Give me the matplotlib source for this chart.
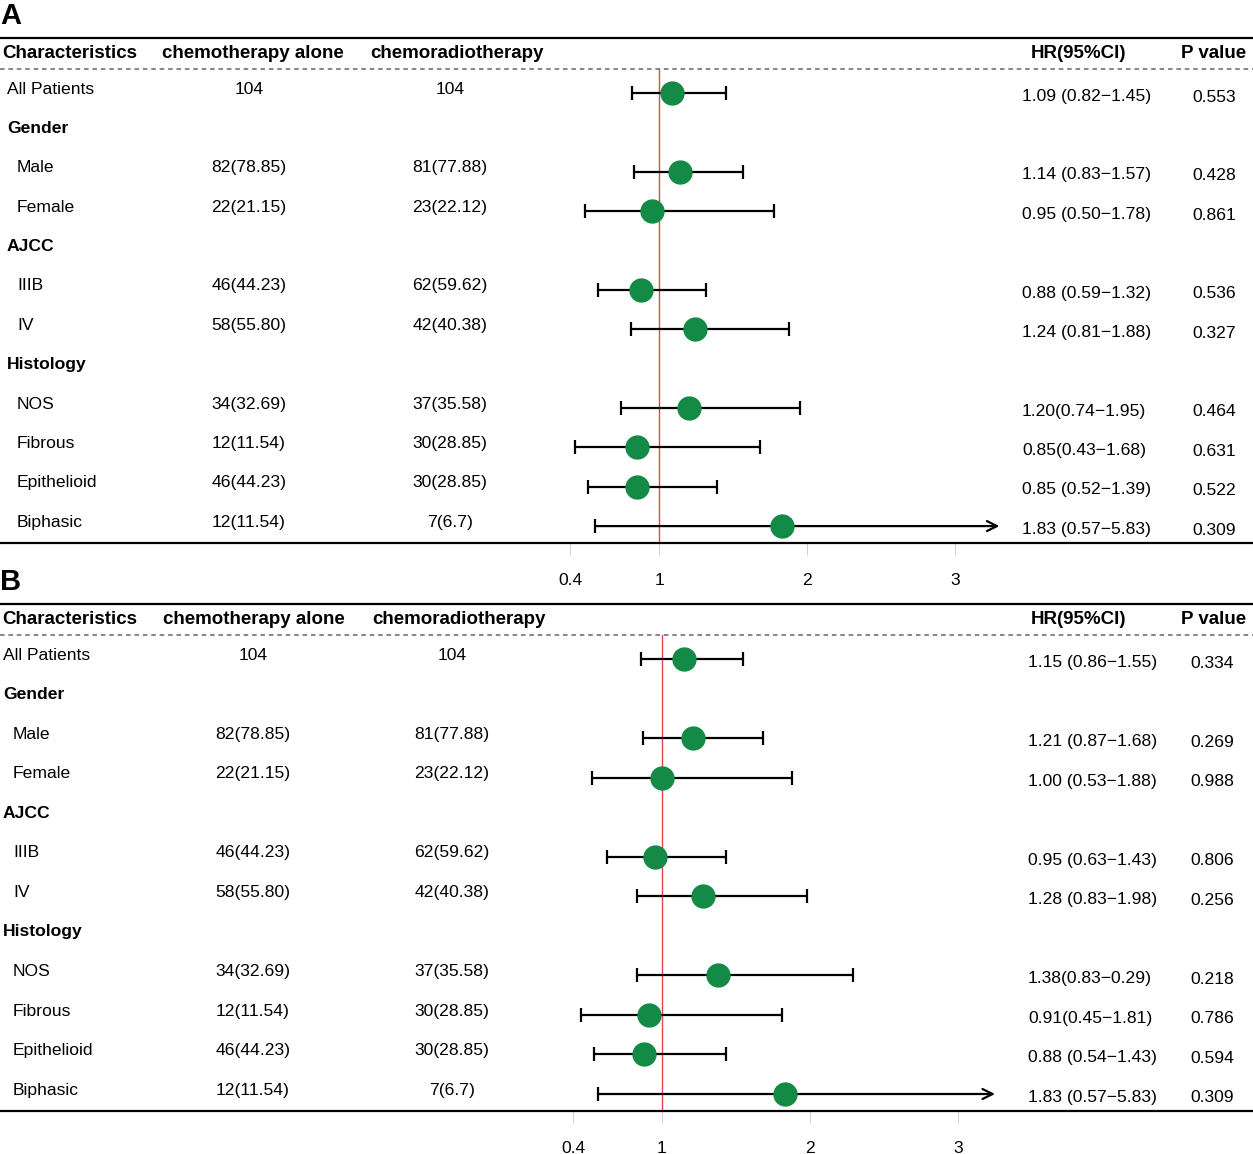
import matplotlib
matplotlib.use("Agg")
import matplotlib.pyplot as plt
import matplotlib.transforms as mtransforms

plt.rcParams['font.family'] = ['Liberation Sans', 'DejaVu Sans']

# --- data -------------------------------------------------------------------
row_labels = ["All Patients", "Gender", "Male", "Female", "AJCC", "IIIB", "IV",
              "Histology", "NOS", "Fibrous", "Epithelioid", "Biphasic"]
is_group = [False, True, False, False, True, False, False, True,
            False, False, False, False]
is_sub = [False, False, True, True, False, True, True, False,
          True, True, True, True]
chemo_alone = ["104", "", "82(78.85)", "22(21.15)", "", "46(44.23)", "58(55.80)",
               "", "34(32.69)", "12(11.54)", "46(44.23)", "12(11.54)"]
chemo_radio = ["104", "", "81(77.88)", "23(22.12)", "", "62(59.62)", "42(40.38)",
               "", "37(35.58)", "30(28.85)", "30(28.85)", "7(6.7)"]
data_rows = [0, 2, 3, 5, 6, 8, 9, 10, 11]

# panel A
hr_a = [1.09, 1.14, 0.95, 0.88, 1.24, 1.20, 0.85, 0.85, 1.83]
lo_a = [0.82, 0.83, 0.50, 0.59, 0.81, 0.74, 0.43, 0.52, 0.57]
hi_a = [1.45, 1.57, 1.78, 1.32, 1.88, 1.95, 1.68, 1.39, 5.83]
hr_text_a = ["1.09 (0.82\u22121.45)", "1.14 (0.83\u22121.57)", "0.95 (0.50\u22121.78)",
             "0.88 (0.59\u22121.32)", "1.24 (0.81\u22121.88)", "1.20(0.74\u22121.95)",
             "0.85(0.43\u22121.68)", "0.85 (0.52\u22121.39)", "1.83 (0.57\u22125.83)"]
p_a = ["0.553", "0.428", "0.861", "0.536", "0.327", "0.464", "0.631", "0.522", "0.309"]

# panel B
hr_b = [1.15, 1.21, 1.00, 0.95, 1.28, 1.38, 0.91, 0.88, 1.83]
lo_b = [0.86, 0.87, 0.53, 0.63, 0.83, 0.83, 0.45, 0.54, 0.57]
hi_b = [1.55, 1.68, 1.88, 1.43, 1.98, 2.29, 1.81, 1.43, 5.83]
hr_text_b = ["1.15 (0.86\u22121.55)", "1.21 (0.87\u22121.68)", "1.00 (0.53\u22121.88)",
             "0.95 (0.63\u22121.43)", "1.28 (0.83\u22121.98)", "1.38(0.83\u22120.29)",
             "0.91(0.45\u22121.81)", "0.88 (0.54\u22121.43)", "1.83 (0.57\u22125.83)"]
p_b = ["0.334", "0.269", "0.988", "0.806", "0.256", "0.218", "0.786", "0.594", "0.309"]

x_ticks = [0.4, 1, 2, 3]
headers = ["Characteristics", "chemotherapy alone", "chemoradiotherapy", "HR(95%CI)", "P value"]

W, H = 1253, 1154
GREEN = "#138a45"
FS = 12.6


def draw_panel(letter, top_px, bot_px, one_px, clip_hi, cols, hr, lo, hi, hr_text, pv):
    ax = fig.add_axes([0, 1 - bot_px / H, 1, (bot_px - top_px) / H])
    ax.set_xlim(1 - one_px / 148, 1 + (W - one_px) / 148)
    ax.set_ylim(11.45, -1.38)
    for s in ["left", "right"]:
        ax.spines[s].set_visible(False)
    for s in ["top", "bottom"]:
        ax.spines[s].set_linewidth(1.6)
    ax.set_yticks([])
    ax.set_xticks(x_ticks)
    ax.set_xticklabels(["0.4", "1", "2", "3"], fontsize=FS)
    ax.tick_params(axis="x", length=8.5, width=0.8, color="#d0d0d0", pad=13)

    tr = mtransforms.blended_transform_factory(ax.transAxes, ax.transData)
    px = lambda v: v / W

    # header
    ax.axhline(-0.6, color="#666666", lw=1.1, ls=(0, (3, 2.5)))
    hy = -0.98
    ax.text(px(2), hy, headers[0], transform=tr, fontsize=13.5, weight="bold", va="center")
    ax.text(px(cols["h1"]), hy, headers[1], transform=tr, fontsize=13.5, weight="bold", va="center")
    ax.text(px(cols["h2"]), hy, headers[2], transform=tr, fontsize=13.5, weight="bold", va="center")
    ax.text(px(1079), hy, headers[3], transform=tr, fontsize=13.5, weight="bold",
            va="center", ha="center")
    ax.text(px(1181), hy, headers[4], transform=tr, fontsize=13.5, weight="bold", va="center")

    # left table
    for i, lab in enumerate(row_labels):
        yl = i - 0.08
        x0 = cols["sub"] if is_sub[i] else cols["lab"]
        ax.text(px(x0), yl, lab, transform=tr, fontsize=FS, va="center",
                weight="bold" if is_group[i] else "normal")
        ax.text(px(cols["c1"]), yl, chemo_alone[i], transform=tr, fontsize=FS,
                va="center", ha="center")
        ax.text(px(cols["c2"]), yl, chemo_radio[i], transform=tr, fontsize=FS,
                va="center", ha="center")

    # reference line
    ax.plot([1, 1], [-0.6, 11.45], color="#e8454a", lw=1.0, zorder=2)

    # forest marks
    for k, r in enumerate(data_rows):
        y = r + 0.02
        if hi[k] > clip_hi:
            ax.annotate("", xy=(clip_hi, y), xytext=(lo[k], y),
                        arrowprops=dict(arrowstyle="->", lw=1.6, color="black",
                                        mutation_scale=18, shrinkA=0, shrinkB=0),
                        zorder=3)
            ax.plot([lo[k]], [y], marker="|", ms=10, mew=1.6, color="black", zorder=3)
        else:
            ax.errorbar(hr[k], y, xerr=[[hr[k] - lo[k]], [hi[k] - hr[k]]], fmt="none",
                        ecolor="black", elinewidth=1.6, capsize=5, capthick=1.6, zorder=3)
        ax.plot(hr[k], y, "o", ms=16.5, color=GREEN, mec=GREEN, zorder=4)
        ax.text(px(cols["hr"]), r + 0.1, hr_text[k], transform=tr, fontsize=FS, va="center")
        ax.text(px(cols["p"]), r + 0.12, pv[k], transform=tr, fontsize=FS,
                va="center", ha="center")

    fig.text(0.0, 1 - (top_px - 22) / H, letter, fontsize=21, weight="bold", va="center")
    return ax


fig = plt.figure(figsize=(W / 100, H / 100), dpi=100)

draw_panel("A", 38, 543, 659, 3.30,
           dict(lab=7, sub=17, c1=249, c2=450, hr=1022, p=1214, h1=162, h2=370),
           hr_a, lo_a, hi_a, hr_text_a, p_a)
draw_panel("B", 604, 1111, 662, 3.25,
           dict(lab=3, sub=13, c1=253, c2=452, hr=1028, p=1212, h1=163, h2=372),
           hr_b, lo_b, hi_b, hr_text_b, p_b)

fig.savefig("out.png", dpi=100)
